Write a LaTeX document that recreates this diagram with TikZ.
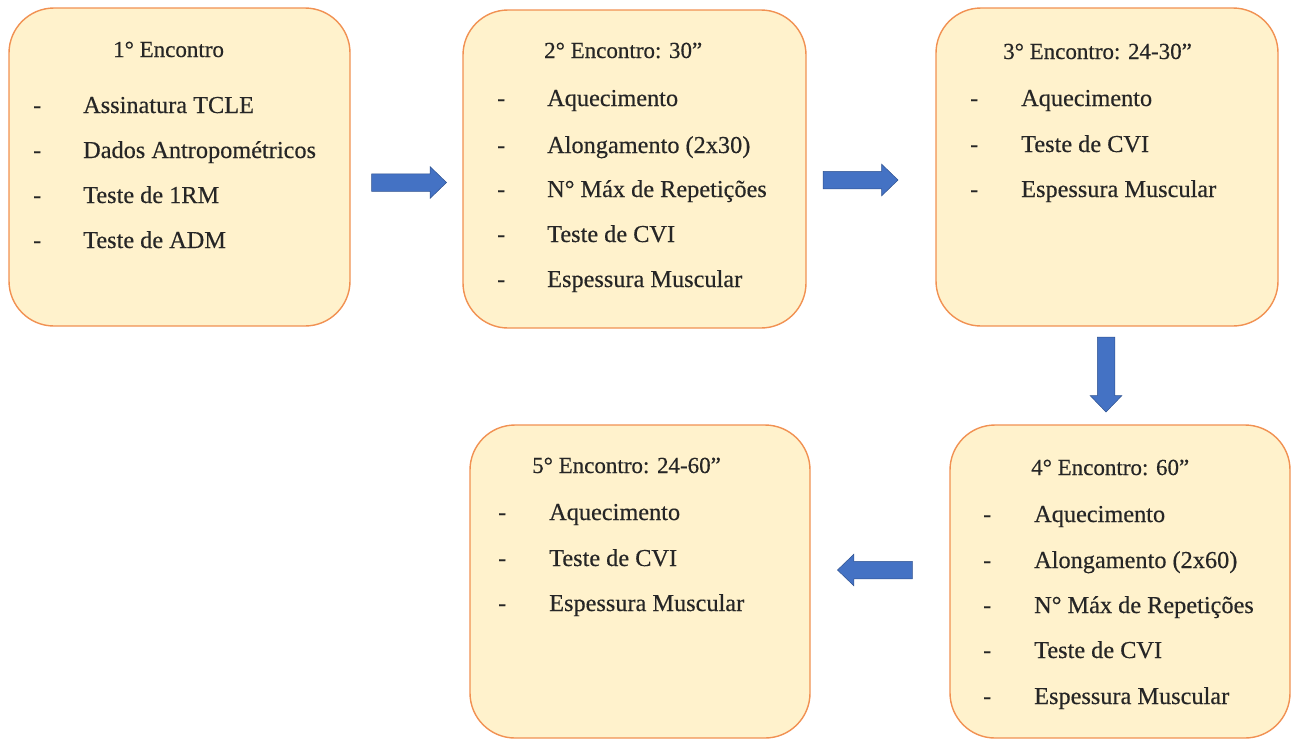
\documentclass[tikz,border=0pt]{standalone}
\usepackage{fontspec}
\setmainfont{LiberationSerif}[Extension=.ttf, UprightFont=*-Regular, BoldFont=*-Bold, ItalicFont=*-Italic, BoldItalicFont=*-BoldItalic]
\newfontfamily\tnr{LiberationSerif}[Extension=.ttf, UprightFont=*-Regular, FakeBold=0.4, UprightFeatures={FakeBold=0.4}]
\usetikzlibrary{shapes.arrows}
\definecolor{boxfill}{HTML}{FFF2CC}
\definecolor{boxline}{HTML}{F19152}
\definecolor{arrfill}{HTML}{4472C4}
\definecolor{arrline}{HTML}{2F528F}
\tikzset{
  encbox/.style={draw=boxline, fill=boxfill, line width=1.4pt, rounded corners=45pt, inner sep=0pt},
  txt/.style={anchor=base west, inner sep=0pt, text=black!85, font=\tnr\fontsize{24.3}{28}\selectfont},
  ttl/.style={anchor=base west, inner sep=0pt, text=black!85, font=\tnr\fontsize{23}{28}\selectfont},
  blockarrow/.style={single arrow, draw=arrline, line width=0.5pt, fill=arrfill,
    inner xsep=0pt, inner ysep=8.5pt, text width=0pt, text height=0pt, text depth=0pt,
    minimum height=75pt, single arrow head extend=7pt, single arrow tip angle=88}
}
\begin{document}
\begin{tikzpicture}[x=1pt,y=-1pt]
\useasboundingbox (0,0) rectangle (1297,740);
% boxes
\node[encbox, minimum width=341pt, minimum height=318pt] (b1) at (179.5,167) {};
\node[encbox, minimum width=343pt, minimum height=318pt] (b2) at (634.5,169) {};
\node[encbox, minimum width=342pt, minimum height=318pt] (b3) at (1107,167) {};
\node[encbox, minimum width=340pt, minimum height=313pt] (b4) at (1120,581.5) {};
\node[encbox, minimum width=340pt, minimum height=313pt] (b5) at (640,581.5) {};
% box 1
\node[ttl] (t1) at (113,57) {1° Encontro};
\foreach \y/\t [count=\i] in {113/Assinatura TCLE,158/Dados Antropométricos,203/Teste de 1RM,248/Teste de ADM}{
  \node[txt] (d1\i) at (33,\y) {-};
  \node[txt] (i1\i) at (83,\y) {\t};
}
% box 2
\node[ttl] (t2) at (544,58) {2° Encontro: 30”};
\foreach \y/\t [count=\i] in {106/Aquecimento,153/Alongamento (2x30),197/N° Máx de Repetições,242/Teste de CVI,287/Espessura Muscular}{
  \node[txt] (d2\i) at (497,\y) {-};
  \node[txt] (i2\i) at (547,\y) {\t};
}
% box 3
\node[ttl] (t3) at (1003,59) {3° Encontro: 24-30”};
\foreach \y/\t [count=\i] in {106/Aquecimento,152/Teste de CVI,197/Espessura Muscular}{
  \node[txt] (d3\i) at (970,\y) {-};
  \node[txt] (i3\i) at (1021,\y) {\t};
}
% box 4
\node[ttl] (t4) at (1031,475) {4° Encontro: 60”};
\foreach \y/\t [count=\i] in {522/Aquecimento,568/Alongamento (2x60),613/N° Máx de Repetições,658/Teste de CVI,704/Espessura Muscular}{
  \node[txt] (d4\i) at (983,\y) {-};
  \node[txt] (i4\i) at (1034,\y) {\t};
}
% box 5
\node[ttl] (t5) at (532,473) {5° Encontro: 24-60”};
\foreach \y/\t [count=\i] in {520/Aquecimento,566/Teste de CVI,611/Espessura Muscular}{
  \node[txt] (d5\i) at (498,\y) {-};
  \node[txt] (i5\i) at (549,\y) {\t};
}
% arrows
\node[blockarrow] (a12) at (404.5,182.5) {};
\node[blockarrow] (a23) at (856,180) {};
\node[blockarrow, rotate=-90] (a34) at (1106,370) {};
\node[blockarrow, rotate=180] (a45) at (879.5,570) {};
\end{tikzpicture}
\end{document}
